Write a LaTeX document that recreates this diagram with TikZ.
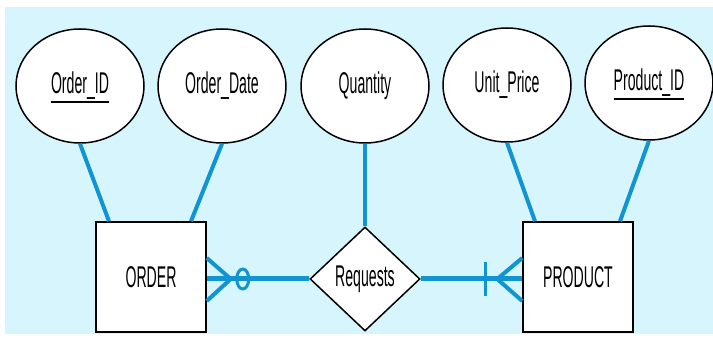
\documentclass[tikz,border=0pt]{standalone}
\usepackage{fontspec}
\setmainfont{Liberation Sans}
\usepackage{graphicx}
\usetikzlibrary{shapes.geometric,positioning,calc}

\definecolor{erbg}{RGB}{214,245,252}
\definecolor{erline}{RGB}{16,148,210}
\newcommand{\erlabel}[1]{\fontsize{30}{30}\selectfont\scalebox{0.47}[1]{#1}}
\newcommand{\erkey}[1]{\setbox0\hbox{#1}\hbox{\rlap{\smash{\raisebox{-9pt}{\rule{\wd0}{2pt}}}}\box0}}

\begin{document}
\begin{tikzpicture}[x=1pt,y=-1pt,
    attr/.style={ellipse,draw,fill=white,line width=1.5pt,minimum width=128pt,minimum height=114pt,inner sep=0pt},
    entity/.style={rectangle,draw,fill=white,line width=1.5pt,minimum size=110pt,inner sep=0pt},
    rel/.style={diamond,draw,fill=white,line width=1.5pt,minimum width=110pt,minimum height=104pt,inner sep=0pt},
    link/.style={erline,line width=4pt},
    rellink/.style={erline,line width=5pt}]
    \useasboundingbox (0,0) rectangle (713,339);
    \fill[erbg] (5,7) rectangle (713,334);
    % attributes
    \node[attr] (oid) at (80,86) {\erlabel{\erkey{Order\_ID}}};
    \node[attr] (odate) at (222,86) {\erlabel{Order\_Date}};
    \node[attr] (qty) at (365,86) {\erlabel{Quantity}};
    \node[attr] (uprice) at (507,85) {\erlabel{Unit\_Price}};
    \node[attr] (pid) at (649,83) {\erlabel{\erkey{Product\_ID}}};
    % entities and relationship
    \node[entity] (order) at (151,277) {\erlabel{ORDER}};
    \node[entity] (product) at (578,277) {\erlabel{PRODUCT}};
    \node[rel] (req) at (365,279) {\erlabel{Requests}};
    \draw[link] (oid.south) -- ([xshift=-42pt]order.north);
    \draw[link] (odate.south) -- ([xshift=40pt]order.north);
    \draw[link] (qty.south) -- (req.north);
    \draw[link] (uprice.south) -- ([xshift=-43pt]product.north);
    \draw[link] (pid.south) -- ([xshift=42pt]product.north);
    % cardinalities
    \coordinate (ojoin) at (order.east |- req.west);
    \coordinate (pjoin) at (product.west |- req.east);
    \draw[rellink] (ojoin) -- (req.west);
    \draw[rellink] (req.east) -- (pjoin);
    \draw[link] ([yshift=21pt]ojoin) -- ($(ojoin)+(24,0)$) -- ([yshift=-22pt]ojoin);
    \draw[erline,line width=3pt] ($(ojoin)+(36,0)$) ellipse [x radius=6pt,y radius=10pt];
    \draw[link] ([yshift=21pt]pjoin) -- ($(pjoin)+(-25,0)$) -- ([yshift=-22pt]pjoin);
    \draw[erline,line width=3.5pt] ($(pjoin)+(-37,-17)$) -- ($(pjoin)+(-37,17)$);
\end{tikzpicture}
\end{document}
